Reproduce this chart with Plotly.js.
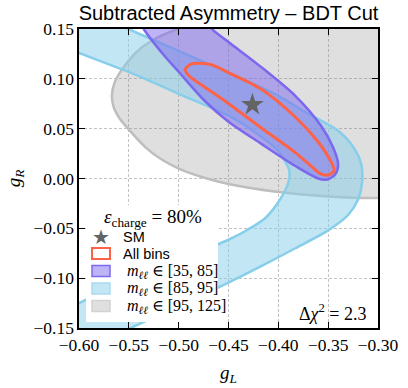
<!DOCTYPE html>
<html>
<head>
<meta charset="utf-8">
<script src="https://cdn.plot.ly/plotly-3.0.1.min.js"></script>
<style>
  html, body { margin: 0; padding: 0; background: #fff; }
  #chart { width: 408px; height: 388px; }
</style>
</head>
<body>
<div id="chart"></div>
<script>
/* -----------------------------
   contour data (g_L, g_R)
----------------------------- */
// m_ll in [95,125] -- big grey ellipse, leaves the frame at top and right
var greyX = [-0.567, -0.564, -0.555, -0.540, -0.520, -0.500, -0.470, -0.420, -0.360, -0.300, -0.250, -0.230,
             -0.235, -0.250, -0.280, -0.300, -0.350, -0.400, -0.450, -0.475, -0.500, -0.517, -0.533, -0.549,
             -0.559, -0.565, -0.567];
var greyY = [0.083, 0.097, 0.112, 0.129, 0.142, 0.1505, 0.162, 0.172, 0.174, 0.166, 0.140, 0.100,
             0.050, 0.005, -0.017, -0.0195, -0.018, -0.0135, -0.0055, 0.001, 0.010, 0.019, 0.031, 0.048,
             0.060, 0.071, 0.083];

// m_ll in [85,95] -- light blue banana band (outer edge, then inner edge back)
var blueX = [-0.580, -0.550, -0.500, -0.450, -0.400, -0.373, -0.340, -0.325, -0.317, -0.316, -0.320, -0.330,
             -0.350, -0.383, -0.400, -0.433, -0.4615, -0.500, -0.546, -0.580,
             -0.630, -0.600, -0.530, -0.4505, -0.433, -0.413, -0.398, -0.390, -0.389, -0.393, -0.401,
             -0.420, -0.450, -0.500, -0.543, -0.600, -0.640, -0.580];
var blueY = [0.165, 0.150, 0.128, 0.106, 0.083, 0.0667, 0.048, 0.032, 0.015, -0.0045, -0.021, -0.0366,
             -0.052, -0.070, -0.079, -0.096, -0.110, -0.128, -0.149, -0.164,
             -0.140, -0.125, -0.094, -0.0617, -0.0527, -0.0396, -0.0206, -0.004, 0.008, 0.0166, 0.0286,
             0.044, 0.063, 0.085, 0.104, 0.126, 0.142, 0.165];

// m_ll in [35,85] -- purple ellipse, its top is cut by the frame
var purpleX = [-0.535, -0.545, -0.530, -0.500, -0.475, -0.4665, -0.450, -0.4174, -0.383, -0.357, -0.345, -0.340,
               -0.343, -0.351, -0.360, -0.383, -0.4174, -0.450, -0.474, -0.4987, -0.5167, -0.535];
var purpleY = [0.150, 0.172, 0.190, 0.186, 0.165, 0.150, 0.137, 0.112, 0.083, 0.0527, 0.031, 0.014,
               0.004, -0.001, 0.000, 0.0125, 0.035, 0.057, 0.078, 0.1056, 0.126, 0.150];

// all bins -- red outline only
var redX = [-0.4935, -0.487, -0.475, -0.4666, -0.4505, -0.4174, -0.383, -0.360, -0.347, -0.344, -0.350, -0.358,
            -0.367, -0.383, -0.4174, -0.4505, -0.4666, -0.4896, -0.4935];
var redY = [0.1095, 0.115, 0.1155, 0.114, 0.1065, 0.0898, 0.0617, 0.0366, 0.0166, 0.008, 0.0035, 0.005,
            0.0125, 0.026, 0.051, 0.0755, 0.0868, 0.103, 0.1095];

// standard model point
var smX = [-0.426];
var smY = [0.074];

// legend labels
var legendTitle = '<i>ε</i><sub>charge</sub> = 80%';
var legendLabels = ['SM', 'All bins', '<i>m</i><sub><i>ℓℓ</i></sub> ∈ [35, 85]',
                    '<i>m</i><sub><i>ℓℓ</i></sub> ∈ [85, 95]', '<i>m</i><sub><i>ℓℓ</i></sub> ∈ [95, 125]'];

/* -----------------------------
   colours
----------------------------- */
var C = {
  greyFill: 'rgba(128,128,128,0.25)', greyLine: 'rgb(190,190,190)',
  blueFill: 'rgba(135,206,235,0.5)', blueLine: 'rgb(135,206,235)',
  purpleFill: 'rgba(123,104,238,0.5)', purpleLine: 'rgb(123,104,238)',
  red: 'rgb(255,99,71)', star: 'rgb(100,100,100)'
};
var SERIF = '"Liberation Serif", "DejaVu Serif", serif';
var SANS = '"Liberation Sans", "DejaVu Sans", sans-serif';

function region(x, y, fill, line, w) {
  return {
    x: x, y: y, type: 'scatter', mode: 'lines', fill: 'toself', fillcolor: fill,
    line: { color: line, width: w, shape: 'spline', smoothing: 0.8 },
    hoverinfo: 'skip', showlegend: false
  };
}

var traces = [
  region(greyX, greyY, C.greyFill, C.greyLine, 2.5),
  region(blueX, blueY, C.blueFill, C.blueLine, 2.5),
  region(purpleX, purpleY, C.purpleFill, C.purpleLine, 2.5),
  region(redX, redY, 'rgba(0,0,0,0)', C.red, 3),
  { x: smX, y: smY, type: 'scatter', mode: 'markers', showlegend: false,
    marker: { symbol: 'star', size: 17, color: C.star, line: { width: 0 } } }
];

/* -----------------------------
   hand-made legend box (paper coords)
----------------------------- */
function px2x(px) { return (px - 79) / 299; }
function py2y(py) { return (328 - py) / 299; }

var rowY = [237, 253.5, 271, 288.5, 306];
var boxes = [null, ['rgba(0,0,0,0)', C.red], ['rgb(189,180,246)', C.purpleLine],
             ['rgb(195,230,245)', 'rgb(170,218,240)'], ['rgb(223,223,223)', 'rgb(210,210,210)']];

var shapes = [{
  type: 'rect', xref: 'paper', yref: 'paper', layer: 'above',
  x0: px2x(86), x1: px2x(218), y0: py2y(322), y1: py2y(205),
  fillcolor: 'white', line: { width: 0 }
}];
var annotations = [];

annotations.push({ xref: 'paper', yref: 'paper', x: px2x(153), y: py2y(218), text: legendTitle,
  showarrow: false, xanchor: 'center', yanchor: 'middle', font: { family: SERIF, size: 19, color: '#000' } });
annotations.push({ xref: 'paper', yref: 'paper', x: px2x(101), y: py2y(237), text: '★',
  showarrow: false, xanchor: 'center', yanchor: 'middle', font: { family: '"DejaVu Sans"', size: 20, color: C.star } });

for (var i = 0; i < legendLabels.length; i++) {
  if (boxes[i]) {
    shapes.push({
      type: 'rect', xref: 'paper', yref: 'paper', layer: 'above',
      x0: px2x(92), x1: px2x(110), y0: py2y(rowY[i] + 5.5), y1: py2y(rowY[i] - 5.5),
      fillcolor: boxes[i][0], line: { color: boxes[i][1], width: i === 1 ? 2 : 1.5 }
    });
  }
  var isMath = i >= 2;
  annotations.push({ xref: 'paper', yref: 'paper', x: px2x(isMath ? 125 : 121), y: py2y(rowY[i]),
    text: legendLabels[i], showarrow: false, xanchor: 'left', yanchor: 'middle',
    font: { family: isMath ? SERIF : SANS, size: isMath ? 16 : 14.5, color: '#000' } });
}

// delta chi2 label, bottom right
annotations.push({ xref: 'paper', yref: 'paper', x: px2x(368), y: py2y(312),
  text: 'Δ<i>χ</i><sup>2</sup> = 2.3', showarrow: false, xanchor: 'right', yanchor: 'middle',
  font: { family: SERIF, size: 18, color: '#000' } });

/* -----------------------------
   axes and layout
----------------------------- */
function axis(range, title, standoff) {
  return {
    range: range, dtick: 0.05, tick0: 0, tickformat: '.2f',
    ticks: 'inside', ticklen: 6, tickwidth: 1, tickcolor: '#000',
    showline: true, linecolor: '#000', linewidth: 1.6, mirror: 'allticks',
    showgrid: true, gridcolor: 'rgb(195,195,195)', griddash: '3px,2px', gridwidth: 1,
    zeroline: false, fixedrange: true,
    tickfont: { family: SERIF, size: 17.5, color: '#000' },
    title: { text: title, standoff: standoff, font: { family: SERIF, size: 19, color: '#000' } }
  };
}

var layout = {
  width: 408, height: 388,
  margin: { l: 79, r: 30, t: 29, b: 60 },
  paper_bgcolor: '#fff', plot_bgcolor: '#fff',
  title: { text: 'Subtracted Asymmetry – BDT Cut', x: 0.5, xref: 'paper', xanchor: 'center',
           y: 0.966, yref: 'container', yanchor: 'middle', font: { family: SANS, size: 20, color: '#000' } },
  xaxis: axis([-0.6, -0.3], '<i>g</i><sub><i>L</i></sub>', 12),
  yaxis: axis([-0.15, 0.15], '<i>g</i><sub><i>R</i></sub>', 8),
  showlegend: false,
  shapes: shapes,
  annotations: annotations
};

Plotly.newPlot('chart', traces, layout, { displayModeBar: false, staticPlot: true });
</script>
</body>
</html>
